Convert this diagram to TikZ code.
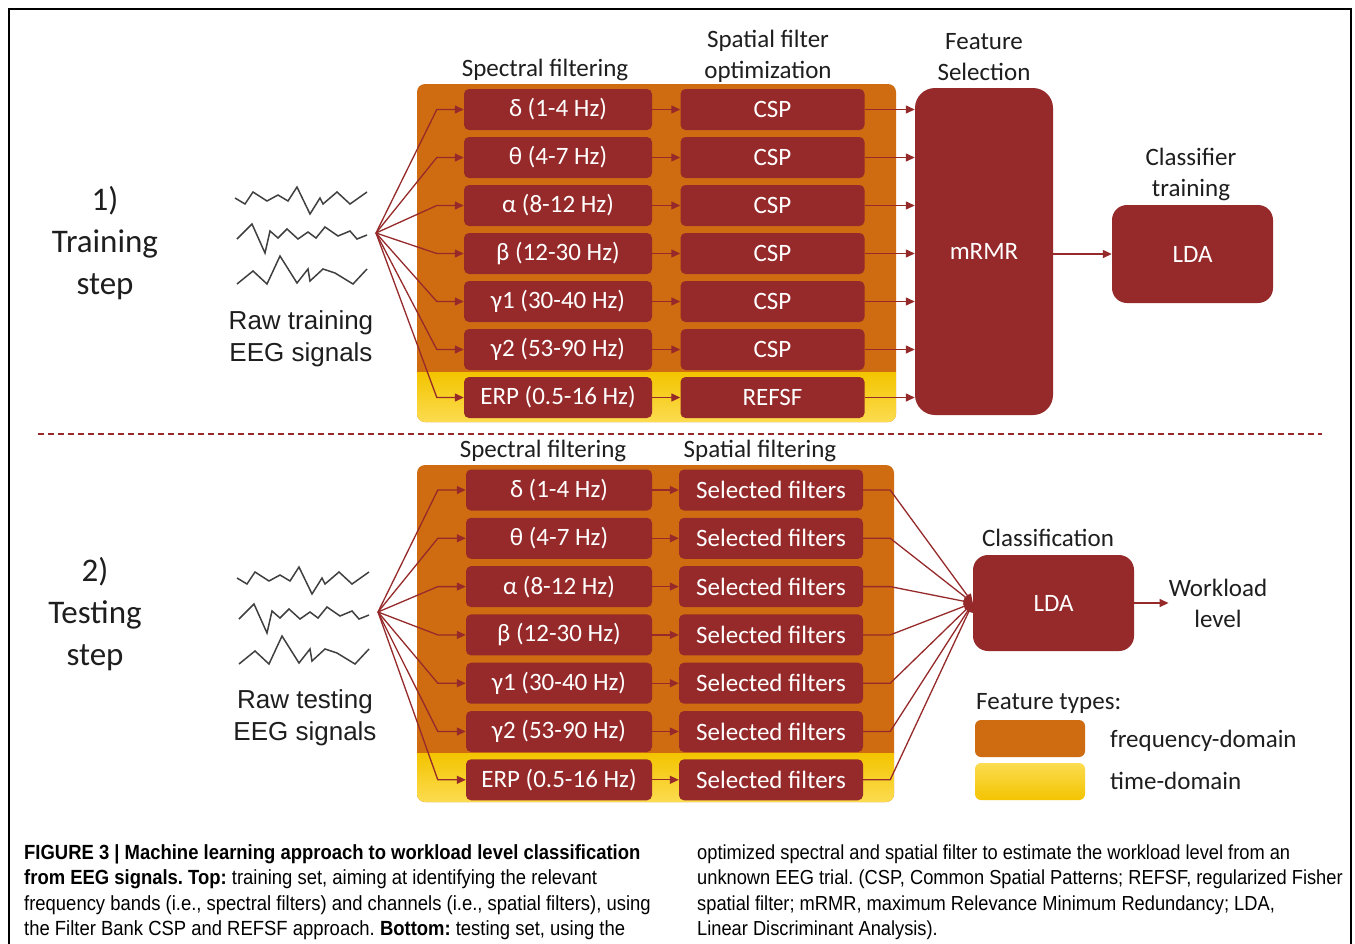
\documentclass[tikz,border=0pt]{standalone}
\usepackage{fontspec}
\setmainfont{Carlito}
\newfontfamily\arialf{Liberation Sans}
\newfontfamily\capfont[FakeStretch=0.9]{Liberation Sans}
\usetikzlibrary{arrows.meta}
\definecolor{boxred}{RGB}{150,42,42}
\definecolor{panelor}{RGB}{207,108,18}
\definecolor{ylwA}{RGB}{243,196,0}
\definecolor{ylwB}{RGB}{252,220,80}
\definecolor{txt}{RGB}{30,30,30}
\frenchspacing
\begin{document}
\begin{tikzpicture}[x=1pt,y=-1pt,
  fbox/.style={fill=boxred,text=white,rounded corners=5pt,minimum width=188pt,minimum height=41pt,inner sep=0pt,font=\fontsize{25}{25}\selectfont},
  sbox/.style={fbox,minimum width=184pt},
  bigbox/.style={fill=boxred,text=white,inner sep=0pt,font=\fontsize{25}{25}\selectfont},
  lbl/.style={text=txt,font=\fontsize{25}{31}\selectfont,align=center,inner sep=0pt},
  big/.style={text=txt,font=\fontsize{33}{42}\selectfont,align=center,inner sep=0pt},
  raw/.style={text=txt,font=\arialf\fontsize{26}{32}\selectfont,align=center,inner sep=0pt},
  captxt/.style={text=black,font=\capfont\fontsize{20.5}{25}\selectfont,inner sep=0pt,anchor=base west},
  captxtr/.style={captxt,font=\capfont\fontsize{20.3}{25}\selectfont},
  arr/.style={boxred,line width=1.3pt,-{Triangle[length=9pt,width=8pt]}},
  wave/.style={black!75,line width=1.5pt,line join=miter},
]
\useasboundingbox (0,0) rectangle (1355,943);
\fill[white] (0,0) rectangle (1355,943);
\draw[line width=1.3pt] (9,945) -- (9,9) -- (1351,9) -- (1351,945);

% ---------- Training ----------
\node[big] (s1) at (105,243) {1)\\Training\\step};
\begin{scope}
\draw[wave] (235,198) -- (245,204) -- (253,192) -- (267,201) -- (278,195) -- (288,201) -- (297,187) -- (310,214) -- (320,198) -- (323,204) -- (337,192) -- (350,204) -- (367,192);
\draw[wave] (237,239) -- (252,224) -- (265,253) -- (270,231) -- (278,238) -- (287,229) -- (298,239) -- (308,232) -- (316,238) -- (325,227) -- (338,236) -- (350,231) -- (357,239) -- (367,235);
\draw[wave] (237,284) -- (253,271) -- (267,284) -- (280,256) -- (297,283) -- (308,269) -- (310,281) -- (323,269) -- (335,273) -- (353,284) -- (367,269);
\end{scope}
\node[raw] (r1) at (301,339) {Raw training\\EEG signals};
\coordinate (tf) at (376,233);

\fill[panelor,rounded corners=8pt] (417,84) rectangle (896,422);
\begin{scope}
\clip[rounded corners=8pt] (417,84) rectangle (896,422);
\shade[top color=ylwA,bottom color=ylwB] (417,372) rectangle (896,422);
\end{scope}

\node[lbl] (h1) at (545,70) {Spectral filtering};
\node[lbl] (h2) at (768,56) {Spatial filter\\optimization};
\node[lbl] (h3) at (984,57) {Feature\\Selection};
\node[lbl] (h4) at (1191,174) {Classifier\\training};

\node[bigbox,rounded corners=20pt,minimum width=138pt,minimum height=327pt] (mrmr) at (984,251.5) {mRMR};
\node[bigbox,rounded corners=15pt,minimum width=161pt,minimum height=98pt] (lda1) at (1192.5,254) {LDA};

\foreach \y/\a/\b/\n in {109.5/{δ (1-4 Hz)}/CSP/1,157.5/{θ (4-7 Hz)}/CSP/2,205.5/{α (8-12 Hz)}/CSP/3,253.5/{β (12-30 Hz)}/CSP/4,301.5/{γ1 (30-40 Hz)}/CSP/5,349.5/{γ2 (53-90 Hz)}/CSP/6,397.5/{ERP (0.5-16 Hz)}/REFSF/7}{
  \node[fbox] (tl\n) at (558,\y) {\a};
  \node[sbox] (tr\n) at (772.5,\y) {\b};
  \draw[arr] (tf) -- ([xshift=-27pt]tl\n.west) -- (tl\n.west);
  \draw[arr] (tl\n.east) -- (tr\n.west);
  \draw[arr] (tr\n.east) -- (mrmr.west |- tr\n.east);
}
\draw[arr] (mrmr.east |- lda1.west) -- (lda1.west);

% ---------- separator ----------
\coordinate (d1) at (38,434);
\coordinate (d2) at (1322,434);
\draw[boxred,line width=1.2pt,dash pattern=on 6pt off 4pt] (d1) -- (d2);

% ---------- Testing ----------
\node[big] (s2) at (95,614) {2)\\Testing\\step};
\begin{scope}[shift={(2,380)}]
\draw[wave] (235,198) -- (245,204) -- (253,192) -- (267,201) -- (278,195) -- (288,201) -- (297,187) -- (310,214) -- (320,198) -- (323,204) -- (337,192) -- (350,204) -- (367,192);
\draw[wave] (237,239) -- (252,224) -- (265,253) -- (270,231) -- (278,238) -- (287,229) -- (298,239) -- (308,232) -- (316,238) -- (325,227) -- (338,236) -- (350,231) -- (357,239) -- (367,235);
\draw[wave] (237,284) -- (253,271) -- (267,284) -- (280,256) -- (297,283) -- (308,269) -- (310,281) -- (323,269) -- (335,273) -- (353,284) -- (367,269);
\end{scope}
\node[raw] (r2) at (305,718) {Raw testing\\EEG signals};
\coordinate (bf) at (378,612);

\fill[panelor,rounded corners=8pt] (417,465) rectangle (894,802);
\begin{scope}
\clip[rounded corners=8pt] (417,465) rectangle (894,802);
\shade[top color=ylwA,bottom color=ylwB] (417,753) rectangle (894,802);
\end{scope}

\node[lbl] (g1) at (543,451) {Spectral filtering};
\node[lbl] (g2) at (760,451) {Spatial filtering};
\node[lbl] (g3) at (1048,538) {Classification};

\node[bigbox,rounded corners=15pt,minimum width=161pt,minimum height=96pt] (lda2) at (1053.5,603) {LDA};
\node[lbl] (wl) at (1218,603) {Workload\\level};
\draw[arr] (lda2.east) -- (wl.west |- lda2.east);

\foreach \y/\a/\n in {490/{δ (1-4 Hz)}/1,538.3/{θ (4-7 Hz)}/2,586.6/{α (8-12 Hz)}/3,634.9/{β (12-30 Hz)}/4,683.2/{γ1 (30-40 Hz)}/5,731.5/{γ2 (53-90 Hz)}/6,779.8/{ERP (0.5-16 Hz)}/7}{
  \node[fbox,minimum width=186pt] (bl\n) at (559,\y) {\a};
  \node[sbox] (br\n) at (771,\y) {Selected filters};
  \draw[arr] (bf) -- ([xshift=-28pt]bl\n.west) -- (bl\n.west);
  \draw[arr] (bl\n.east) -- (br\n.west);
  \draw[arr] (br\n.east) -- ([xshift=27pt]br\n.east) -- (lda2.west);
}

% ---------- legend ----------
\node[lbl,anchor=west] (ftl) at (976,703) {Feature types:};
\node[fill=panelor,rounded corners=6pt,minimum width=110pt,minimum height=37pt,inner sep=0pt] (lg1) at (1030,738.5) {};
\node[top color=ylwB,bottom color=ylwA,rounded corners=6pt,minimum width=110pt,minimum height=37pt,inner sep=0pt] (lg2) at (1030,781.5) {};
\node[lbl,anchor=west] (lt1) at (1110,741) {frequency-domain};
\node[lbl,anchor=west] (lt2) at (1110,781) {time-domain};

% ---------- caption ----------
\node[captxt] (c1) at (24,859) {\bfseries FIGURE 3 | Machine learning approach to workload level classification};
\node[captxt] (c2) at (24,884) {\textbf{from EEG signals. Top:} training set, aiming at identifying the relevant};
\node[captxt] (c3) at (24,910) {frequency bands (i.e., spectral filters) and channels (i.e., spatial filters), using};
\node[captxt] (c4) at (24,935) {the Filter Bank CSP and REFSF approach. \textbf{Bottom:} testing set, using the};
\node[captxtr] (c5) at (697,859) {optimized spectral and spatial filter to estimate the workload level from an};
\node[captxtr] (c6) at (697,884) {unknown EEG trial. (CSP, Common Spatial Patterns; REFSF, regularized Fisher};
\node[captxtr] (c7) at (697,910) {spatial filter; mRMR, maximum Relevance Minimum Redundancy; LDA,};
\node[captxtr] (c8) at (697,935) {Linear Discriminant Analysis).};
\end{tikzpicture}
\end{document}
